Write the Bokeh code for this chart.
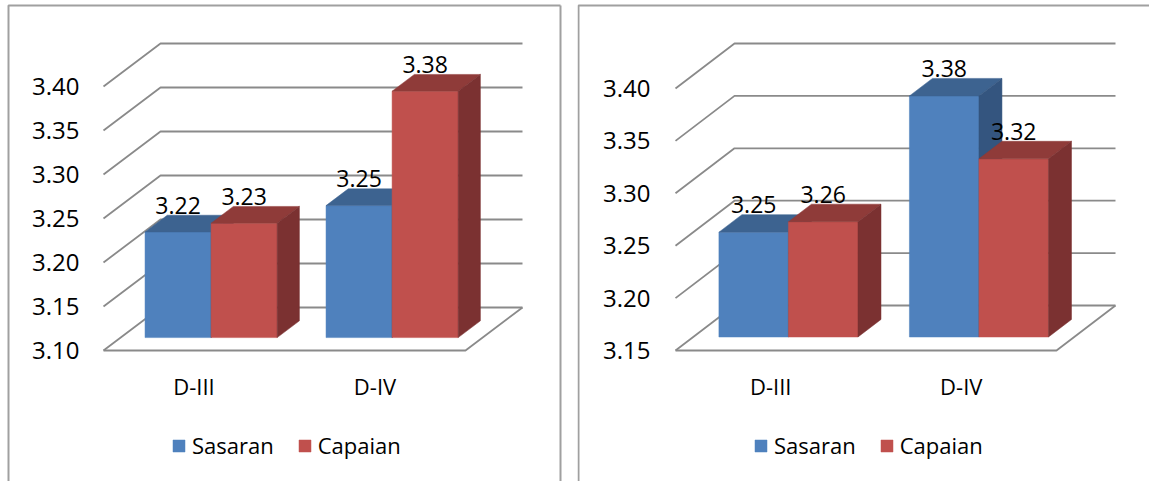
from bokeh.plotting import figure
from bokeh.models import Legend, LegendItem, Range1d
from bokeh.layouts import row
from bokeh.embed import file_html
from bokeh.resources import INLINE
from bokeh.core.properties import value

# ---------------- data ----------------
categories = ["D-III", "D-IV"]
series_names = ["Sasaran", "Capaian"]

left_sasaran = [3.22, 3.25]
left_capaian = [3.23, 3.38]
left_ticks = [3.10, 3.15, 3.20, 3.25, 3.30, 3.35, 3.40]
left_tick_labels = ["3.10", "3.15", "3.20", "3.25", "3.30", "3.35", "3.40"]

right_sasaran = [3.25, 3.38]
right_capaian = [3.26, 3.32]
right_ticks = [3.15, 3.20, 3.25, 3.30, 3.35, 3.40]
right_tick_labels = ["3.15", "3.20", "3.25", "3.30", "3.35", "3.40"]

# ---------------- style ----------------
FONT = value("Open Sans")
FRONT = {"Sasaran": "#4F81BD", "Capaian": "#C0504D"}
TOP = {"Sasaran": "#3D6390", "Capaian": "#8F3B39"}
SIDE = {"Sasaran": "#34557F", "Capaian": "#7B3131"}
GRID = "#8A8A8A"
BORDER = "#A0A0A0"
H = 481

F0, F1 = 0.3, 0.69      # bar depth span (fraction of floor depth)
BAR_LO, BAR_HI = 0.135, 0.865  # bar pair span inside a category


def panel(width, floor_left, floor_y, cat_px, val_px, dx_px, dy_px,
          base, ticks, tick_labels, sasaran, capaian, legend_x, label_dx,
          border_left, border_right=None):
    x0 = -floor_left / cat_px
    x1 = x0 + width / cat_px
    y1 = base + floor_y / val_px
    y0 = y1 - H / val_px
    p = figure(width=width, height=H, x_range=Range1d(x0, x1), y_range=Range1d(y0, y1),
               x_axis_location=None, y_axis_location=None, min_border=0,
               toolbar_location=None, output_backend="svg", outline_line_color=None,
               background_fill_color="white", border_fill_color="white")
    p.grid.grid_line_color = None

    DX = dx_px / cat_px
    DY = dy_px / val_px
    ncat = len(categories)

    def pr(c, v, d):
        return c + d * DX, v + d * DY

    # wall / floor lines
    xs, ys = [], []
    for t in ticks:
        a = pr(0, t, 0); b = pr(0, t, 1); c = pr(ncat, t, 1)
        xs.append([a[0], b[0], c[0]]); ys.append([a[1], b[1], c[1]])
    a = pr(0, base, 0); b = pr(ncat, base, 0); c = pr(ncat, base, 1)
    xs.append([a[0], b[0], c[0]]); ys.append([a[1], b[1], c[1]])
    p.multi_line(xs, ys, line_color=GRID, line_width=1.8)

    # bars
    legend_items = []
    half = (BAR_HI - BAR_LO) / len(series_names)
    for si, (name, vals) in enumerate(zip(series_names, [sasaran, capaian])):
        fx, fy, tx, ty, sx, sy = [], [], [], [], [], []
        for ci, v in enumerate(vals):
            c0 = ci + BAR_LO + si * half
            c1 = c0 + half
            pts = [pr(c0, base, F0), pr(c1, base, F0), pr(c1, v, F0), pr(c0, v, F0)]
            fx.append([q[0] for q in pts]); fy.append([q[1] for q in pts])
            pts = [pr(c0, v, F0), pr(c1, v, F0), pr(c1, v, F1), pr(c0, v, F1)]
            tx.append([q[0] for q in pts]); ty.append([q[1] for q in pts])
            pts = [pr(c1, base, F0), pr(c1, base, F1), pr(c1, v, F1), pr(c1, v, F0)]
            sx.append([q[0] for q in pts]); sy.append([q[1] for q in pts])
        rf = p.patches(fx, fy, fill_color=FRONT[name], line_color=FRONT[name], line_width=0.5)
        p.patches(tx, ty, fill_color=TOP[name], line_color=TOP[name], line_width=0.5)
        p.patches(sx, sy, fill_color=SIDE[name], line_color=SIDE[name], line_width=0.5)
        legend_items.append(LegendItem(label=name, renderers=[rf]))

        # value labels
        lx, ly, lt = [], [], []
        for ci, v in enumerate(vals):
            cm = ci + BAR_LO + si * half + half / 2
            q = pr(cm, v, F1)
            lx.append(cm + F0 * DX); ly.append(q[1]); lt.append("%.2f" % v)
        p.text(lx, ly, text=lt, text_font=FONT, text_font_size="23px", text_color="#000000",
               text_align="center", text_baseline="alphabetic", y_offset=-10)

    # tick labels (front plane)
    p.text([0] * len(ticks), ticks, text=tick_labels, text_font=FONT, text_font_size="24px",
           text_color="#000000", text_align="right", text_baseline="middle", x_offset=label_dx)

    # category labels
    p.text([i + 0.5 for i in range(ncat)], [base] * ncat, text=categories, text_font=FONT,
           text_font_size="22px", text_color="#000000", text_align="center",
           text_baseline="middle", y_offset=35)

    # chart border (left, top, right) at pixel positions inside this figure
    px = 1.0 / cat_px
    py = 1.0 / val_px
    left_x = x0 + border_left * px
    top_y = y1 - 5 * py
    right_x = x0 + border_right * px if border_right is not None else x1 + 10 * px
    p.line([left_x, left_x, right_x], [y0 - 10 * py, top_y, top_y],
           line_color=BORDER, line_width=2)
    if border_right is not None:
        p.line([right_x, right_x], [top_y, y0 - 10 * py], line_color=BORDER, line_width=2)

    legend = Legend(items=legend_items, location=(legend_x, 21), orientation="horizontal",
                    glyph_width=15, glyph_height=15, label_standoff=6, spacing=23,
                    padding=0, margin=0, border_line_color=None, background_fill_alpha=0,
                    label_text_font="Open Sans", label_text_font_size="22px",
                    label_text_color="#000000")
    p.add_layout(legend)
    return p


p1 = panel(577, 103, 350, 181.0, 880.0, 57, 43, 3.10, left_ticks, left_tick_labels,
           left_sasaran, left_capaian, 171, -24, border_left=8, border_right=560)
p2 = panel(572, 98, 350, 190.5, 1048.0, 59, 45, 3.15, right_ticks, right_tick_labels,
           right_sasaran, right_capaian, 176, -25, border_left=1)

layout = row(p1, p2)
open("out.html", "w").write(file_html(layout, INLINE))
